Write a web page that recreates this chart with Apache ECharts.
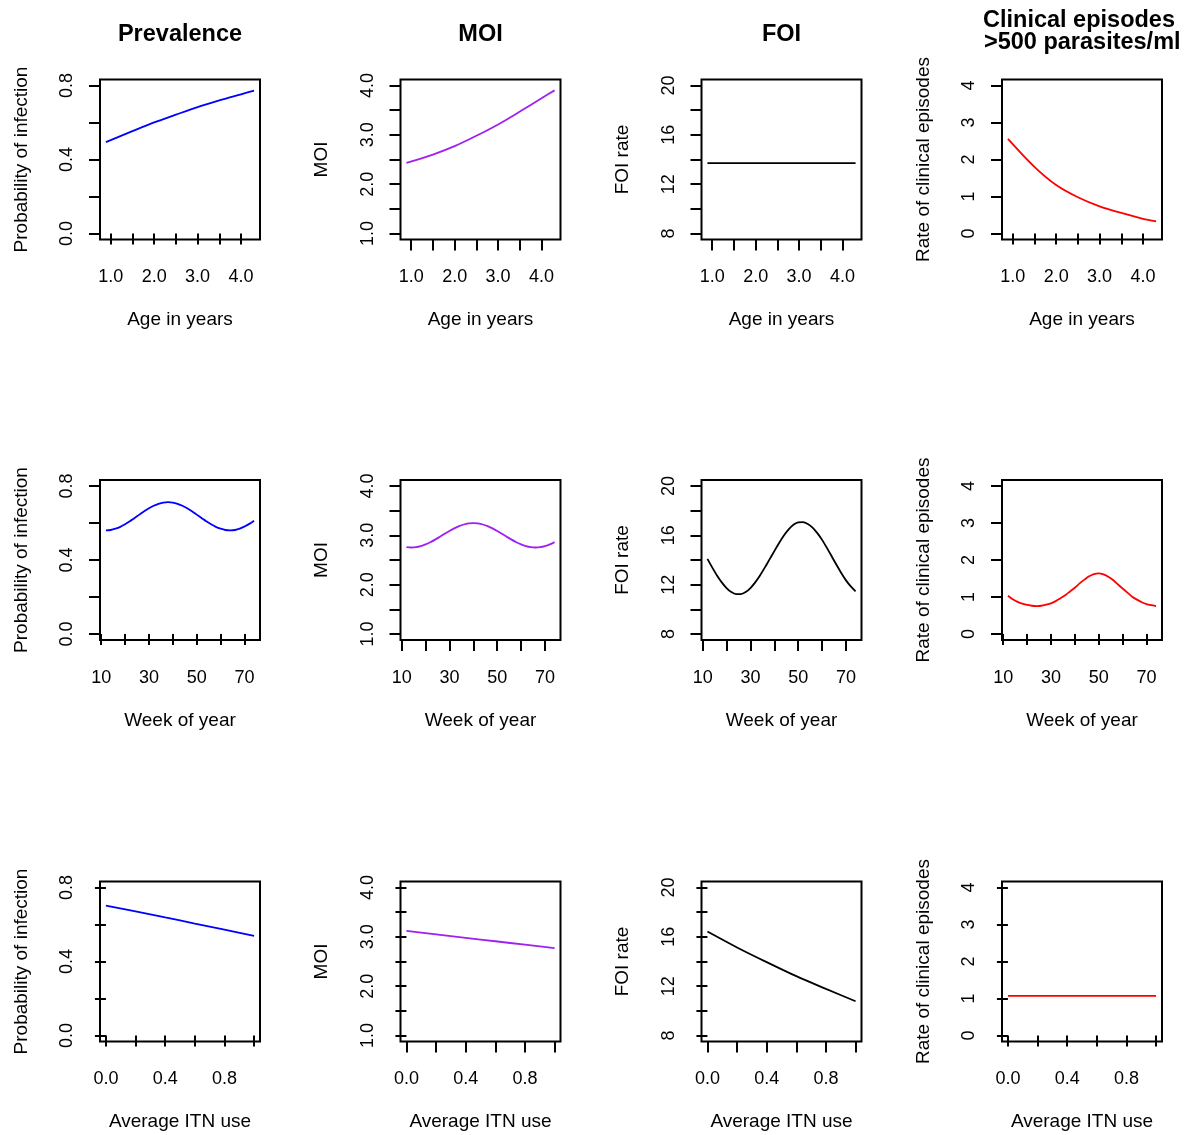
<!DOCTYPE html>
<html>
<head>
<meta charset="utf-8">
<script src="https://cdn.jsdelivr.net/npm/echarts@6/dist/echarts.min.js"></script>
<style>
html, body { margin: 0; padding: 0; background: #fff; }
#chart { width: 1195px; height: 1135px; }
</style>
</head>
<body>
<div id="chart"></div>
<script>
// x values of each row
var ageX  = [0.89, 1.5, 2.0, 2.5, 3.0, 3.5, 4.0, 4.3];
var weekX = [12, 14, 16, 18, 20, 22, 24, 26, 28, 30, 32, 34, 36, 38, 40, 42,
             44, 46, 48, 50, 52, 54, 56, 58, 60, 62, 64, 66, 68, 70, 72, 74];
var itnX  = [0, 0.2, 0.4, 0.6, 0.8, 1.0];

// row 1: age
var agePrev = [0.494, 0.553, 0.600, 0.642, 0.683, 0.719, 0.752, 0.772];
var ageMoi  = [2.43, 2.60, 2.77, 2.98, 3.21, 3.47, 3.74, 3.90];
var ageFoi  = [13.7, 13.7, 13.7, 13.7, 13.7, 13.7, 13.7, 13.7];
var ageClin = [2.556, 1.80, 1.31, 0.98, 0.735, 0.556, 0.40, 0.33];

// row 2: week of year
var weekPrev = [0.560, 0.562, 0.569, 0.579, 0.593, 0.609, 0.627, 0.645, 0.663, 0.679, 0.693, 0.703, 0.710, 0.712, 0.710, 0.703,
                0.693, 0.679, 0.663, 0.645, 0.627, 0.609, 0.593, 0.579, 0.569, 0.562, 0.560, 0.562, 0.569, 0.581, 0.595, 0.612];
var weekMoi  = [2.760, 2.753, 2.760, 2.781, 2.815, 2.860, 2.912, 2.970, 3.030, 3.088, 3.140, 3.185, 3.219, 3.240, 3.247, 3.240,
                3.219, 3.185, 3.140, 3.088, 3.030, 2.970, 2.912, 2.860, 2.815, 2.781, 2.760, 2.753, 2.760, 2.781, 2.815, 2.862];
var weekFoi  = [14.09, 13.40, 12.75, 12.19, 11.73, 11.40, 11.24, 11.24, 11.40, 11.73, 12.19, 12.75, 13.38, 14.05, 14.72, 15.38,
                15.98, 16.48, 16.85, 17.04, 17.07, 16.92, 16.63, 16.18, 15.63, 14.98, 14.30, 13.61, 12.95, 12.35, 11.86, 11.46];
var weekClin = [1.036, 0.94, 0.87, 0.82, 0.79, 0.765, 0.757, 0.765, 0.795, 0.83, 0.89, 0.97, 1.05, 1.15, 1.25, 1.37,
                1.47, 1.56, 1.62, 1.64, 1.61, 1.55, 1.46, 1.34, 1.23, 1.12, 1.01, 0.93, 0.86, 0.81, 0.78, 0.757];

// row 3: average ITN use
var itnPrev = [0.702, 0.671, 0.638, 0.605, 0.572, 0.538];
var itnMoi  = [3.12, 3.05, 2.98, 2.91, 2.84, 2.77];
var itnFoi  = [16.43, 15.14, 13.95, 12.81, 11.78, 10.78];
var itnClin = [1.07, 1.07, 1.07, 1.07, 1.07, 1.07];

var titles = ['Prevalence', 'MOI', 'FOI', 'Clinical episodes\n >500 parasites/ml'];
var yNames = ['Probability of infection', 'MOI', 'FOI rate', 'Rate of clinical episodes'];
var xNames = ['Age in years', 'Week of year', 'Average ITN use'];
var colors = ['#0000ff', '#a020f0', '#000000', '#ff0000'];

var yLims   = [[0, 0.8], [1, 4], [8, 20], [0, 4]];
var yTicks  = [[0, 0.2, 0.4, 0.6, 0.8], [1, 1.5, 2, 2.5, 3, 3.5, 4], [8, 10, 12, 14, 16, 18, 20], [0, 1, 2, 3, 4]];
var yLabels = [[0, 0.4, 0.8], [1, 2, 3, 4], [8, 12, 16, 20], [0, 1, 2, 3, 4]];
var yDigits = [1, 1, 0, 0];
var xTicks  = [[1, 1.5, 2, 2.5, 3, 3.5, 4], [10, 20, 30, 40, 50, 60, 70], [0, 0.2, 0.4, 0.6, 0.8, 1]];
var xLabels = [[1, 2, 3, 4], [10, 30, 50, 70], [0, 0.4, 0.8]];
var xDigits = [1, 0, 1];

var rowX = [ageX, weekX, itnX];
var rowY = [
    [agePrev, ageMoi, ageFoi, ageClin],
    [weekPrev, weekMoi, weekFoi, weekClin],
    [itnPrev, itnMoi, itnFoi, itnClin]
];

var font = 'Liberation Sans, Arial, Helvetica, sans-serif';
var colLeft = [100, 400.5, 701.5, 1002];
var rowTop = [79.5, 480, 881.5];
var boxW = 160, boxH = 160;

// R style range: data range stretched by 4% on each side
function usr(lo, hi) {
    var d = (hi - lo) * 0.04;
    return [lo - d, hi + d];
}

function fmt(d) {
    return function (v) { return Number(v).toFixed(d); };
}

var grids = [], xAxes = [], yAxes = [], series = [], titleList = [];

for (var c = 0; c < 4; c++) {
    titleList.push({
        text: titles[c],
        left: c == 3 ? 1079 : colLeft[c] + boxW / 2,
        top: c == 3 ? 9.5 : 23.5,
        textAlign: 'center',
        padding: 0,
        textStyle: { fontFamily: font, fontSize: 23.5, fontWeight: 'bold', color: '#000', lineHeight: 22 }
    });
}

for (var r = 0; r < 3; r++) {
    for (var c = 0; c < 4; c++) {
        var i = grids.length;
        var xs = rowX[r], ys = rowY[r][c];
        var xr = usr(Math.min.apply(null, xs), Math.max.apply(null, xs));
        var yr = usr(yLims[c][0], yLims[c][1]);

        grids.push({
            left: colLeft[c], top: rowTop[r], width: boxW, height: boxH,
            show: true, borderColor: '#000', borderWidth: 2,
            backgroundColor: 'transparent', containLabel: false, outerBoundsMode: 'none'
        });

        xAxes.push({
            type: 'value', gridIndex: i, min: xr[0], max: xr[1],
            axisLine: { show: false },
            splitLine: { show: false },
            axisTick: { show: true, length: 11, customValues: xTicks[r], lineStyle: { color: '#000', width: 2 } },
            axisLabel: {
                customValues: xLabels[r], margin: 29, color: '#000', fontSize: 18, fontFamily: font,
                formatter: fmt(xDigits[r])
            },
            name: xNames[r], nameLocation: 'middle', nameGap: 71, nameMoveOverlap: false,
            nameTextStyle: { color: '#000', fontSize: 19, fontFamily: font }
        });

        yAxes.push({
            type: 'value', gridIndex: i, min: yr[0], max: yr[1],
            axisLine: { show: false },
            splitLine: { show: false },
            axisTick: { show: true, length: 11, customValues: yTicks[c], lineStyle: { color: '#000', width: 2 } },
            axisLabel: {
                customValues: yLabels[c], margin: 23.5, rotate: 90, color: '#000', fontSize: 18, fontFamily: font,
                formatter: fmt(yDigits[c])
            },
            name: yNames[c], nameLocation: 'middle', nameGap: 69, nameMoveOverlap: false,
            nameTextStyle: { color: '#000', fontSize: 19, fontFamily: font }
        });

        series.push({
            type: 'line', xAxisIndex: i, yAxisIndex: i,
            data: xs.map(function (x, k) { return [x, ys[k]]; }),
            symbol: 'none', smooth: 0.3, silent: true,
            lineStyle: { color: colors[c], width: 1.8 }
        });
    }
}

var option = {
    backgroundColor: '#fff',
    animation: false,
    title: titleList,
    grid: grids,
    xAxis: xAxes,
    yAxis: yAxes,
    series: series
};

var myChart = echarts.init(document.getElementById('chart'));
myChart.setOption(option);
</script>
</body>
</html>
